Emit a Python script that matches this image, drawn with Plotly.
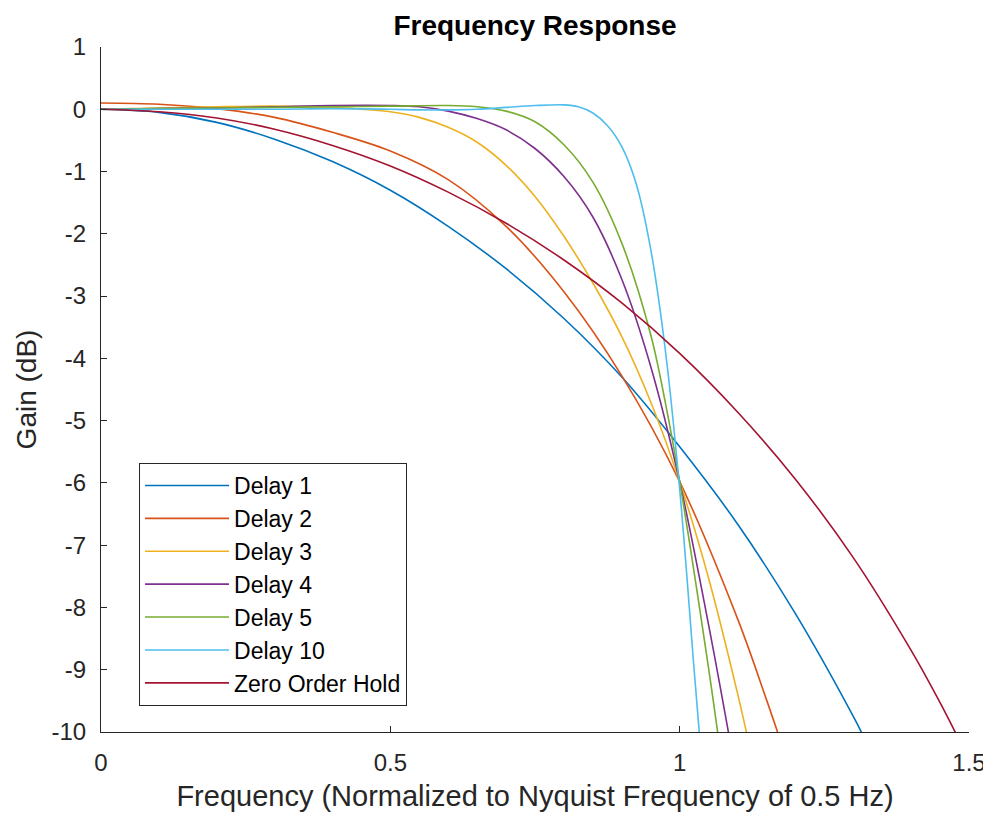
import plotly.graph_objects as go

# ---- data ----
f_d1 = [0, 0.1, 0.2, 0.3, 0.4, 0.5, 0.6, 0.7, 0.8, 0.9, 1.0, 1.1, 1.2, 1.3, 1.33]
g_d1 = [0, -0.05, -0.21, -0.48, -0.84, -1.3, -1.88, -2.56, -3.36, -4.3, -5.42, -6.66, -8.1, -9.75, -10.3]

f_d2 = [0, 0.1, 0.2, 0.3, 0.4, 0.5, 0.6, 0.7, 0.8, 0.9, 1.0, 1.1, 1.15, 1.18]
g_d2 = [0.10, 0.08, 0.01, -0.13, -0.37, -0.67, -1.13, -1.88, -2.93, -4.28, -5.98, -8.18, -9.48, -10.3]

f_d3 = [0, 0.1, 0.2, 0.3, 0.4, 0.45, 0.5, 0.55, 0.6, 0.65, 0.7, 0.75, 0.8, 0.85, 0.9, 0.95, 1.0, 1.05, 1.1, 1.12]
g_d3 = [0.0, 0.02, 0.04, 0.05, 0.03, 0.0, -0.04, -0.13, -0.29, -0.53, -0.9, -1.4, -2.04, -2.79, -3.65, -4.7, -5.98, -7.53, -9.38, -10.2]

f_d4 = [0, 0.1, 0.2, 0.3, 0.4, 0.5, 0.55, 0.6, 0.65, 0.7, 0.75, 0.8, 0.85, 0.9, 0.95, 1.0, 1.05, 1.09]
g_d4 = [0.0, 0.01, 0.02, 0.04, 0.06, 0.06, 0.04, -0.03, -0.15, -0.33, -0.63, -1.08, -1.73, -2.73, -4.13, -5.98, -8.28, -10.3]

f_d5 = [0, 0.1, 0.2, 0.3, 0.4, 0.5, 0.6, 0.65, 0.7, 0.75, 0.8, 0.85, 0.9, 0.95, 0.975, 1.0, 1.05, 1.07]
g_d5 = [0.0, 0.01, 0.02, 0.03, 0.04, 0.05, 0.06, 0.04, -0.03, -0.2, -0.57, -1.17, -2.15, -3.62, -4.7, -5.98, -8.98, -10.3]

f_d10 = [0, 0.1, 0.2, 0.3, 0.4, 0.5, 0.55, 0.6, 0.65, 0.7, 0.75, 0.8, 0.825, 0.85, 0.875, 0.9, 0.925, 0.95,
         0.975, 1.0, 1.025, 1.04]
g_d10 = [0.0, 0.0, 0.0, 0.0, 0.01, 0.0, -0.01, -0.01, 0.0, 0.03, 0.06, 0.07, 0.04, -0.06, -0.26, -0.6, -1.2, -2.25,
         -3.85, -6.1, -9.0, -10.7]

f_zoh = [0, 0.1, 0.2, 0.3, 0.4, 0.5, 0.6, 0.7, 0.8, 0.9, 1.0, 1.1, 1.2, 1.3, 1.4, 1.45, 1.49]
g_zoh = [0, -0.04, -0.14, -0.32, -0.58, -0.91, -1.33, -1.83, -2.42, -3.11, -3.92, -4.86, -5.94, -7.2, -8.69, -9.53, -10.26]

series_names = ["Delay 1", "Delay 2", "Delay 3", "Delay 4", "Delay 5", "Delay 10", "Zero Order Hold"]
series_f = [f_d1, f_d2, f_d3, f_d4, f_d5, f_d10, f_zoh]
series_g = [g_d1, g_d2, g_d3, g_d4, g_d5, g_d10, g_zoh]
colors = ["#0072BD", "#D95319", "#EDB120", "#7E2F8E", "#77AC30", "#4DBEEE", "#A2142F"]

x_ticks = [0, 0.5, 1, 1.5]
x_tick_labels = ["0", "0.5", "1", "1.5"]
y_ticks = [1, 0, -1, -2, -3, -4, -5, -6, -7, -8, -9, -10]
y_tick_labels = ["1", "0", "-1", "-2", "-3", "-4", "-5", "-6", "-7", "-8", "-9", "-10"]

FONT = "Liberation Sans, Arial, Helvetica, sans-serif"
AX = "#262626"

# the page body has an 8px margin, so the figure is sized to fit the window
W, H = 983, 813

fig = go.Figure()
for name, fx, gy, col in zip(series_names, series_f, series_g, colors):
    fig.add_trace(go.Scatter(
        x=fx, y=gy, mode="lines", name=name,
        line=dict(color=col, width=1.6, shape="spline", smoothing=1.0),
    ))

fig.update_layout(
    width=W, height=H,
    plot_bgcolor="white", paper_bgcolor="white",
    margin=dict(l=93, r=22, t=39, b=89),
    font=dict(family=FONT, color=AX, size=24),
    title=dict(text="<b>Frequency Response</b>", x=0.5, xref="paper", xanchor="center",
               y=1 - 17 / H, yref="container", yanchor="middle",
               font=dict(size=28, color="black", family=FONT)),
    showlegend=True,
    legend=dict(x=0.0438, y=0.3927, xanchor="left", yanchor="top",
                bordercolor=AX, borderwidth=1, bgcolor="white",
                font=dict(size=23, color="black", family=FONT),
                traceorder="normal", itemwidth=84),
)
fig.update_xaxes(
    range=[0, 1.5], tickvals=x_ticks, ticktext=x_tick_labels, automargin=False,
    showgrid=False, zeroline=False, showline=True, linecolor=AX, linewidth=1,
    ticks="inside", ticklen=6, tickcolor=AX, mirror=False,
    tickfont=dict(size=24, color=AX), ticklabelstandoff=9,
    title=dict(text="Frequency (Normalized to Nyquist Frequency of 0.5 Hz)",
               font=dict(size=29, color=AX), standoff=10),
)
fig.update_yaxes(
    range=[-10, 1], tickvals=y_ticks, ticktext=y_tick_labels, automargin=False,
    showgrid=False, zeroline=False, showline=True, linecolor=AX, linewidth=1,
    ticks="inside", ticklen=6, tickcolor=AX, mirror=False,
    tickfont=dict(size=24, color=AX), ticklabelstandoff=9,
    title=dict(text="Gain (dB)", font=dict(size=28, color=AX), standoff=6),
)

fig.write_html("out.html")
